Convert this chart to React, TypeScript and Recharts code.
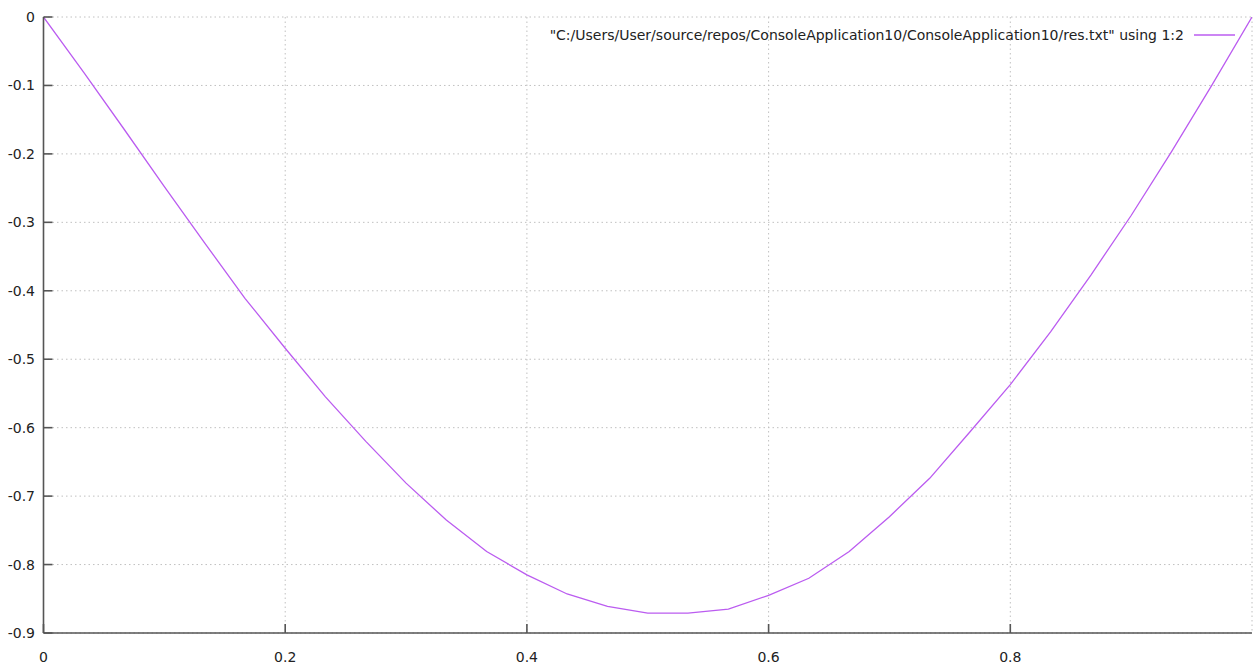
import React from 'react';
import { LineChart, Line, XAxis, YAxis, CartesianGrid, Legend } from 'recharts';

const xValues = [
  0, 0.0333, 0.0667, 0.1, 0.1333, 0.1667, 0.2, 0.2333, 0.2667, 0.3, 0.3333,
  0.3667, 0.4, 0.4333, 0.4667, 0.5, 0.5333, 0.5667, 0.6, 0.6333, 0.6667,
  0.7, 0.7333, 0.7667, 0.8, 0.8333, 0.8667, 0.9, 0.9333, 0.9667, 1.0,
];
const yValues = [
  0, -0.081, -0.164, -0.248, -0.33, -0.411, -0.484, -0.555, -0.62, -0.681, -0.735,
  -0.781, -0.815, -0.843, -0.861, -0.871, -0.871, -0.865, -0.845, -0.82, -0.781,
  -0.73, -0.674, -0.606, -0.537, -0.46, -0.377, -0.29, -0.197, -0.1, 0,
];
const xTicks = [0, 0.2, 0.4, 0.6, 0.8];
const yTicks = [0, -0.1, -0.2, -0.3, -0.4, -0.5, -0.6, -0.7, -0.8, -0.9];
const seriesName = '"C:/Users/User/source/repos/ConsoleApplication10/ConsoleApplication10/res.txt" using 1:2';

const data = xValues.map((x, i) => ({ x, y: yValues[i] }));

const FONT = '"DejaVu Sans", Verdana, sans-serif';
const LINE_COLOR = '#bb5cf0';
const AXIS_COLOR = '#555555';
const TEXT_COLOR = '#222222';

const EmptyTick = () => <g />;

const renderLegend = (props: any) => {
  const item = props && props.payload && props.payload[0];
  return (
    <div
      style={{
        display: 'flex',
        justifyContent: 'flex-end',
        alignItems: 'center',
        fontFamily: FONT,
        fontSize: 14,
        color: TEXT_COLOR,
        lineHeight: '16px',
      }}
    >
      <span>{item ? item.value : seriesName}</span>
      <svg width={53} height={10} style={{ display: 'block' }}>
        <line x1={10} x2={51} y1={5} y2={5} stroke={LINE_COLOR} strokeWidth={1.3} />
      </svg>
    </div>
  );
};

export default function App() {
  return (
    <div style={{ position: 'absolute', left: 0, top: 0, background: '#ffffff' }}>
      <LineChart
        width={1259}
        height={664}
        data={data}
        margin={{ top: 17, right: 7, left: 0, bottom: 0 }}
      >
        <CartesianGrid stroke="#c0c0c0" strokeDasharray="1.5 3" strokeWidth={1} />
        <XAxis
          dataKey="x"
          type="number"
          domain={[0, 1]}
          ticks={xTicks}
          height={31}
          axisLine={{ stroke: AXIS_COLOR, strokeWidth: 1.6 }}
          tickLine={{ stroke: AXIS_COLOR, strokeWidth: 1.6 }}
          tickSize={-9}
          tickMargin={28}
          tick={{ fill: TEXT_COLOR, fontSize: 14, fontFamily: FONT }}
          allowDataOverflow
        />
        <XAxis
          xAxisId="top"
          orientation="top"
          dataKey="x"
          type="number"
          domain={[0, 1]}
          ticks={xTicks}
          height={0}
          axisLine={{ stroke: AXIS_COLOR, strokeWidth: 1.6 }}
          tickLine={{ stroke: AXIS_COLOR, strokeWidth: 1.6 }}
          tickSize={-9}
          tick={<EmptyTick />}
          allowDataOverflow
        />
        <YAxis
          type="number"
          domain={[-0.9, 0]}
          ticks={yTicks}
          width={43.5}
          axisLine={{ stroke: AXIS_COLOR, strokeWidth: 1.6 }}
          tickLine={{ stroke: AXIS_COLOR, strokeWidth: 1.6 }}
          tickSize={-9}
          tickMargin={17.5}
          tick={{ fill: TEXT_COLOR, fontSize: 14, fontFamily: FONT }}
          allowDataOverflow
        />
        <YAxis
          yAxisId="right"
          orientation="right"
          type="number"
          domain={[-0.9, 0]}
          ticks={yTicks}
          width={0}
          axisLine={{ stroke: AXIS_COLOR, strokeWidth: 1.6 }}
          tickLine={{ stroke: AXIS_COLOR, strokeWidth: 1.6 }}
          tickSize={-9}
          tick={<EmptyTick />}
          allowDataOverflow
        />
        <Legend
          layout="horizontal"
          align="center"
          verticalAlign="middle"
          content={renderLegend}
          wrapperStyle={{ position: 'absolute', top: 26.5, left: 0, right: 'auto', bottom: 'auto', width: 1237 }}
        />
        <Line
          type="linear"
          dataKey="y"
          name={seriesName}
          stroke={LINE_COLOR}
          strokeWidth={1.3}
          dot={false}
          activeDot={false}
          isAnimationActive={false}
        />
      </LineChart>
    </div>
  );
}
